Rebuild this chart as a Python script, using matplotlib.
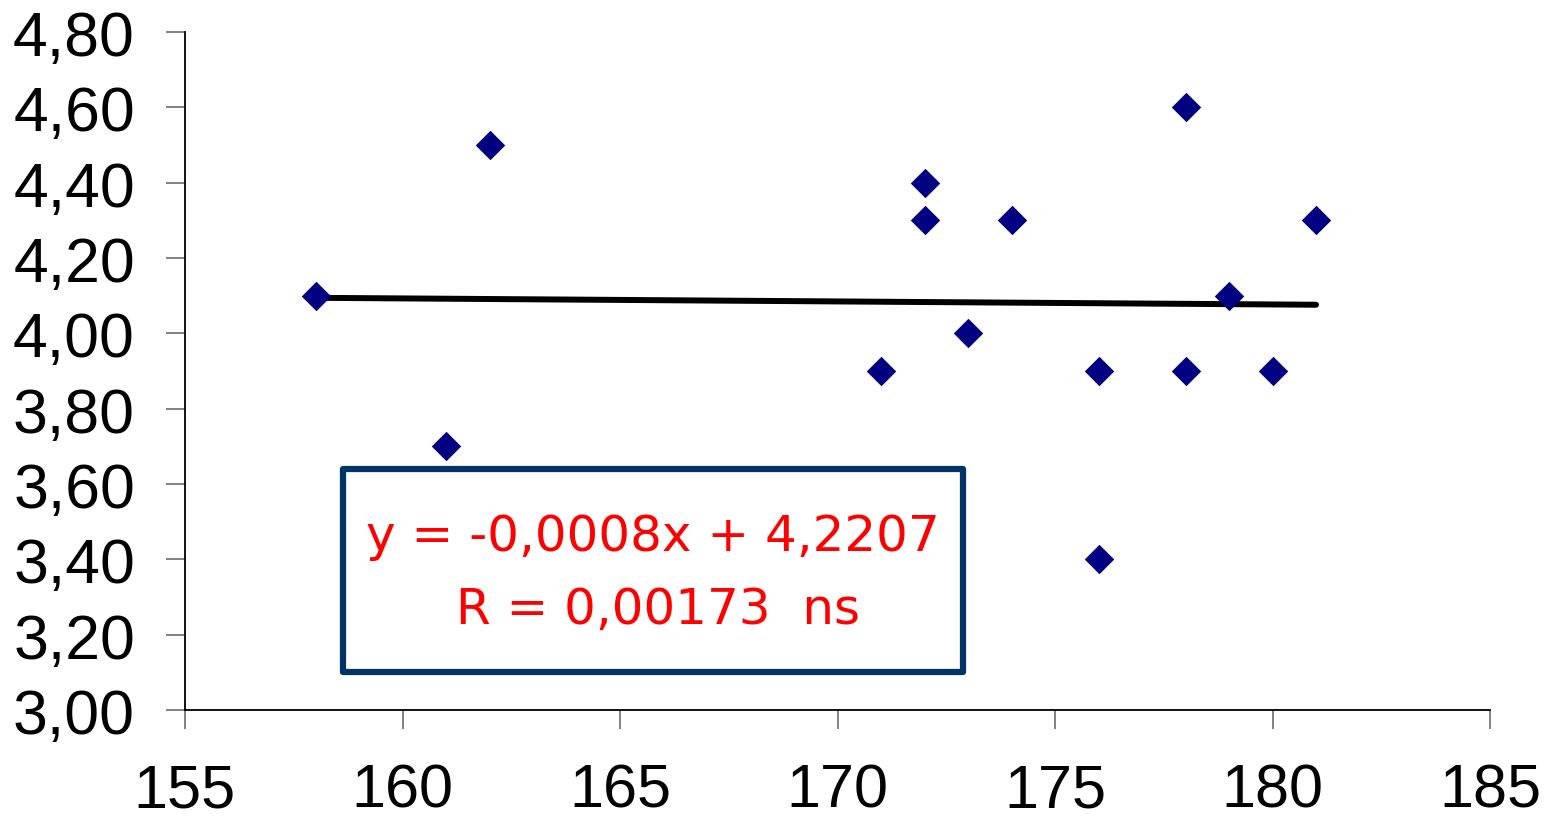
import matplotlib
matplotlib.use("Agg")
import matplotlib.pyplot as plt
from matplotlib.ticker import FuncFormatter
from matplotlib.patches import Rectangle

# data
height = [158, 161, 162, 171, 172, 172, 173, 174, 176, 176, 178, 178, 179, 180, 181]
value = [4.10, 3.70, 4.50, 3.90, 4.40, 4.30, 4.00, 4.30, 3.90, 3.40, 4.60, 3.90, 4.10, 3.90, 4.30]
slope = -0.0008
intercept = 4.2207
eq_text = "y = -0,0008x + 4,2207"
r_text = "R = 0,00173  ns"

W, H, DPI = 1549, 820, 100
fig = plt.figure(figsize=(W / DPI, H / DPI), dpi=DPI)
ax = fig.add_axes([185 / W, 1 - 711 / H, (1490 - 185) / W, (711 - 33) / H])

ax.scatter(height, value, marker="D", s=15 ** 2, color="#000080", zorder=3, linewidths=0)
x_fit = [min(height), max(height)]
y_fit = [slope * x + intercept for x in x_fit]
ax.plot(x_fit, y_fit, color="black", lw=4.3, solid_capstyle="round", zorder=2)

ax.set_xlim(155, 185)
ax.set_ylim(3.0, 4.8)
ax.set_xticks(range(155, 186, 5))
ax.set_yticks([3.0 + 0.2 * i for i in range(10)])
ax.yaxis.set_major_formatter(FuncFormatter(lambda v, p: f"{v:.2f}".replace(".", ",")))

for s in ("top", "right"):
    ax.spines[s].set_visible(False)
for s in ("left", "bottom"):
    ax.spines[s].set_linewidth(1.3)
    ax.spines[s].set_color("black")
ax.tick_params(axis="y", direction="out", length=14, width=1.3, color="#777777",
               labelsize=45, pad=22)
ax.tick_params(axis="x", direction="out", length=14, width=1.3, color="#777777",
               labelsize=44, pad=24)
for lab in ax.get_xticklabels() + ax.get_yticklabels():
    lab.set_family("Liberation Sans")

# equation box
box = Rectangle((343 / W, 1 - 673 / H), (963 - 343) / W, (673 - 470) / H,
                transform=fig.transFigure, facecolor="white", edgecolor="#003366",
                lw=4.5, joinstyle="round", zorder=5)
fig.patches.append(box)
fig.text(653 / W, 1 - 537 / H, eq_text, color="red", fontsize=36, ha="center",
         va="center", family="DejaVu Sans", zorder=6)
fig.text(658 / W, 1 - 610 / H, r_text, color="red", fontsize=36, ha="center",
         va="center", family="DejaVu Sans", zorder=6)

fig.savefig("out.png", dpi=DPI)
